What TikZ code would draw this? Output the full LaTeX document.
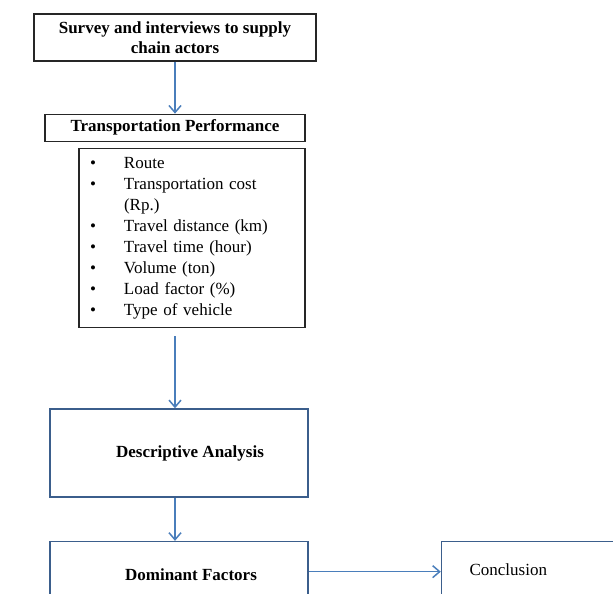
\documentclass[tikz,border=0pt]{standalone}
\usepackage{fontspec}
\setmainfont{Liberation Serif}
\usetikzlibrary{positioning,arrows.meta,calc}
\definecolor{flowblue}{HTML}{4A7EBB}
\definecolor{boxblue}{HTML}{3B5E8C}
\definecolor{boxgray}{HTML}{262626}

\begin{document}
\begin{tikzpicture}[x=1pt,y=1pt,
    plainbox/.style={draw=boxgray, line width=1.3pt, rectangle, inner sep=0pt},
    bluebox/.style={draw=boxblue, line width=1.6pt, rectangle, inner sep=0pt, minimum width=258pt},
    flow/.style={draw=flowblue, line width=1.5pt, -{Straight Barb[length=7pt,width=12pt]}},
    boldtext/.style={font=\bfseries\fontsize{17}{20}\selectfont},
    font=\fontsize{17}{20}\selectfont]
  \useasboundingbox (0,0) rectangle (613,-594);
  \clip (0,0) rectangle (613,-594);
  % data collection
  \node[plainbox, boldtext, minimum width=282pt, minimum height=47pt, align=center] (survey) at (175,-37.5){Survey and interviews to supply\\ chain actors};
  \node[plainbox, boldtext, minimum width=260pt, minimum height=27pt, below=52pt of survey](perf){Transportation Performance};
  \draw[flow](survey.south)--(perf.north);
  \node[plainbox, minimum width=226pt, minimum height=179pt, inner xsep=11pt, text width=204pt, align=left,
        font=\fontsize{17}{21}\selectfont, below=6pt of perf, xshift=17pt](indicators){%
    \begin{tabular}{@{}p{34pt}@{}l@{}}
      \textbullet & Route\\
      \textbullet & Transportation cost\\
                  & (Rp.)\\
      \textbullet & Travel distance (km)\\
      \textbullet & Travel time (hour)\\
      \textbullet & Volume (ton)\\
      \textbullet & Load factor (\%)\\
      \textbullet & Type of vehicle
    \end{tabular}};
  % analysis
  \node[bluebox, boldtext, minimum height=88pt, below=80pt of indicators, xshift=-13pt](descr){\hspace*{22pt}Descriptive Analysis};
  \draw[flow]($(perf.south |- indicators.south)+(0,-8)$)--(perf.south |- descr.north);
  \node[bluebox, boldtext, minimum height=66pt, below=43pt of descr](dominant){\hspace*{24pt}Dominant Factors};
  \draw[flow](perf.south |- descr.south)--(perf.south |- dominant.north);
  \node[draw=boxblue, line width=1.6pt, rectangle, minimum width=200pt, minimum height=60pt, inner xsep=28pt, text width=144pt, align=left,
        right=132pt of dominant.north east, anchor=north west](conclusion){\raisebox{4pt}{Conclusion}};
  \draw[flow](dominant.east |- conclusion.west)--(conclusion.west);
\end{tikzpicture}
\end{document}
